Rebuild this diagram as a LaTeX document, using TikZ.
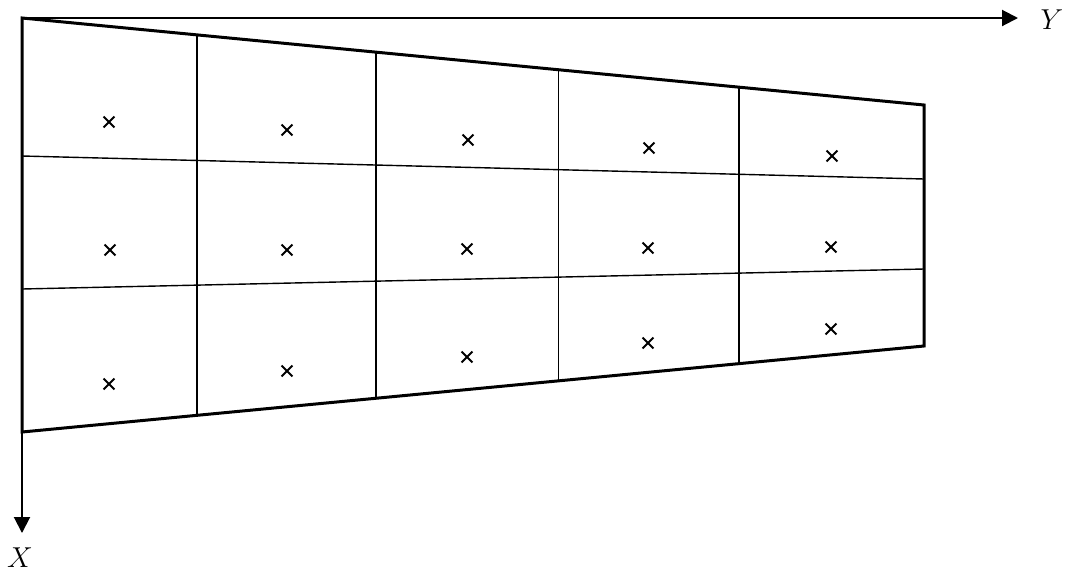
\documentclass[tikz,border=0pt]{standalone}
\usetikzlibrary{arrows.meta, calc, shapes.misc}

\begin{document}
\begin{tikzpicture}[x=0.5pt, y=-0.5pt,
	axis/.style={line width=1pt, -{Triangle[length=8pt, width=8pt]}},
	edge/.style={line width=1.5pt, line join=miter},
	gridline/.style={line width=0.7pt},
	crossmark/.style={cross out, draw, inner sep=0pt, minimum size=4.5pt, line width=0.9pt},
	axislabel/.style={font=\fontsize{14}{17}\selectfont}]
	\useasboundingbox (0,0) rectangle (1070,574);
	\coordinate (O) at (22,18);
	\coordinate (TR) at (924,105);
	\coordinate (BR) at (924,346);
	\coordinate (BL) at (22,432);
	% axes
	\coordinate (Yend) at (1018,18);
	\coordinate (Xend) at (22,533);
	\draw[axis] (O) -- (Yend);
	\draw[axis] (O) -- (Xend);
	\node[axislabel] (Y) at (1052,20) {$Y$};
	\node[axislabel] (X) at (20,558) {$X$};
	% grid
	\coordinate (L1a) at (22,156);
	\coordinate (L1b) at (924,179);
	\coordinate (L2a) at (22,289);
	\coordinate (L2b) at (924,269);
	\draw[gridline] (L1a) -- (L1b);
	\draw[gridline] (L2a) -- (L2b);
	\foreach \t in {0.194, 0.3925, 0.595, 0.795}
		\draw[gridline] ($(O)!\t!(TR)$) -- ($(BL)!\t!(BR)$);
	\draw[edge] (O) -- (TR) -- (BR) -- (BL) -- cycle;
	% sample points
	\foreach \px/\py [count=\i] in {109/122, 287/130, 468/140, 649/148, 832/156,
		110/250, 287/250, 467/249, 648/248, 831/247,
		109/384, 287/371, 467/357, 648/343, 831/329}
		\node[crossmark] (c\i) at (\px,\py) {};
\end{tikzpicture}
\end{document}
